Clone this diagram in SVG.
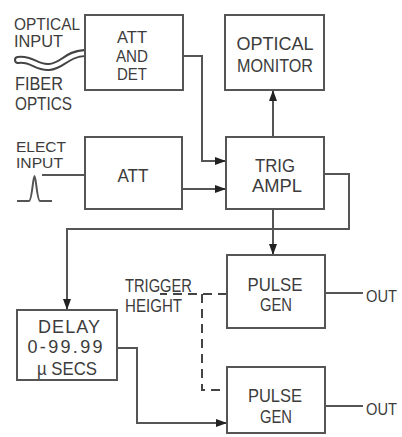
<svg xmlns="http://www.w3.org/2000/svg" width="402" height="437" viewBox="0 0 402 437">
<defs>
<marker id="ah" viewBox="0 0 11 8" refX="11" refY="4" markerWidth="11" markerHeight="8" orient="auto" markerUnits="userSpaceOnUse">
<path d="M0,0 L11,4 L0,8 z" fill="#222"/>
</marker>
</defs>
<style>
.box{fill:#fff;stroke:#555;stroke-width:2}
.ln{fill:none;stroke:#555;stroke-width:2}
.dash{fill:none;stroke:#444;stroke-width:2;stroke-dasharray:9,6}
text{font-family:"Liberation Sans",Arial,sans-serif;font-size:18px;fill:#3c3c3c}
.s16{font-size:16px}
.s15{font-size:15px}
.c{text-anchor:middle}
</style>
<rect width="402" height="437" fill="#fff"/>
<g id="connectors">
<path class="ln" d="M183,56 H202 V161 H226" marker-end="url(#ah)"/>
<path class="ln" d="M182,189 H226" marker-end="url(#ah)"/>
<path class="ln" d="M42,175 H85"/>
<path class="ln" d="M273,137 V90" marker-end="url(#ah)"/>
<path class="ln" d="M324,174 H349 V229 H67 V310" marker-end="url(#ah)"/>
<path class="ln" d="M273,209 V255" marker-end="url(#ah)"/>
<path class="ln" d="M117,348 H137 V423 H227" marker-end="url(#ah)"/>
<path class="ln" d="M325,293 H363"/>
<path class="ln" d="M325,406 H363"/>
<path class="dash" d="M227,294 H160"/>
<path class="dash" d="M202,294 V390 H227"/>
</g>
<g id="fiber">
<path d="M18,60 C32,58 36,68 49,67 C63,66 66,54 84,53" fill="none" stroke="#444" stroke-width="8" stroke-linecap="round"/>
<path d="M18,60 C32,58 36,68 49,67 C63,66 66,54 86,53" fill="none" stroke="#fff" stroke-width="4" stroke-linecap="round"/>
</g>
<g id="pulse">
<path class="ln" d="M17,201 H29 C32,201 33,176 34.5,176 C36,176 37,201 40,201 H52" stroke="#333"/>
</g>
<g id="labels">
<text class="s16" x="14" y="30" textLength="66" lengthAdjust="spacingAndGlyphs">OPTICAL</text>
<text class="s16" x="14" y="47" textLength="49" lengthAdjust="spacingAndGlyphs">INPUT</text>
<text x="15" y="90" textLength="48" lengthAdjust="spacingAndGlyphs">FIBER</text>
<text x="15" y="110" textLength="57" lengthAdjust="spacingAndGlyphs">OPTICS</text>
<text class="s15" x="16" y="152" textLength="50" lengthAdjust="spacingAndGlyphs">ELECT</text>
<text class="s15" x="16" y="168" textLength="47" lengthAdjust="spacingAndGlyphs">INPUT</text>
<text x="125" y="292" textLength="67" lengthAdjust="spacingAndGlyphs">TRIGGER</text>
<text x="125" y="312" textLength="57" lengthAdjust="spacingAndGlyphs">HEIGHT</text>
<text class="s16" x="366" y="302" textLength="31" lengthAdjust="spacingAndGlyphs">OUT</text>
<text class="s16" x="366" y="415" textLength="31" lengthAdjust="spacingAndGlyphs">OUT</text>
</g>
<g id="attdet">
<rect class="box" x="85" y="15" width="98" height="75"/>
<text class="c s16" x="132" y="43" textLength="30" lengthAdjust="spacingAndGlyphs">ATT</text>
<text class="c s16" x="132" y="62" textLength="32" lengthAdjust="spacingAndGlyphs">AND</text>
<text class="c s16" x="132" y="80" textLength="30" lengthAdjust="spacingAndGlyphs">DET</text>
</g>
<g id="monitor">
<rect class="box" x="225" y="15" width="99" height="75"/>
<text class="c" x="275" y="50" textLength="77" lengthAdjust="spacingAndGlyphs">OPTICAL</text>
<text class="c" x="275" y="72" textLength="76" lengthAdjust="spacingAndGlyphs">MONITOR</text>
</g>
<g id="att">
<rect class="box" x="85" y="137" width="97" height="72"/>
<text class="c" x="133" y="182" textLength="31" lengthAdjust="spacingAndGlyphs">ATT</text>
</g>
<g id="trig">
<rect class="box" x="226" y="137" width="98" height="72"/>
<text class="c" x="275" y="172" textLength="40" lengthAdjust="spacingAndGlyphs">TRIG</text>
<text class="c" x="277" y="192" textLength="50" lengthAdjust="spacingAndGlyphs">AMPL</text>
</g>
<g id="pulse1">
<rect class="box" x="227" y="255" width="98" height="73"/>
<text class="c" x="275" y="291" textLength="55" lengthAdjust="spacingAndGlyphs">PULSE</text>
<text class="c" x="276" y="311" textLength="32" lengthAdjust="spacingAndGlyphs">GEN</text>
</g>
<g id="pulse2">
<rect class="box" x="227" y="367" width="98" height="66"/>
<text class="c" x="275" y="402" textLength="54" lengthAdjust="spacingAndGlyphs">PULSE</text>
<text class="c" x="276" y="423" textLength="32" lengthAdjust="spacingAndGlyphs">GEN</text>
</g>
<g id="delay">
<rect class="box" x="17" y="310" width="100" height="70"/>
<text class="c" x="69" y="333" textLength="62" lengthAdjust="spacing">DELAY</text>
<text class="c" x="65" y="353" textLength="75" lengthAdjust="spacing">0-99.99</text>
<text class="c" x="67" y="375" textLength="60" lengthAdjust="spacingAndGlyphs">µ SECS</text>
</g>
</svg>
